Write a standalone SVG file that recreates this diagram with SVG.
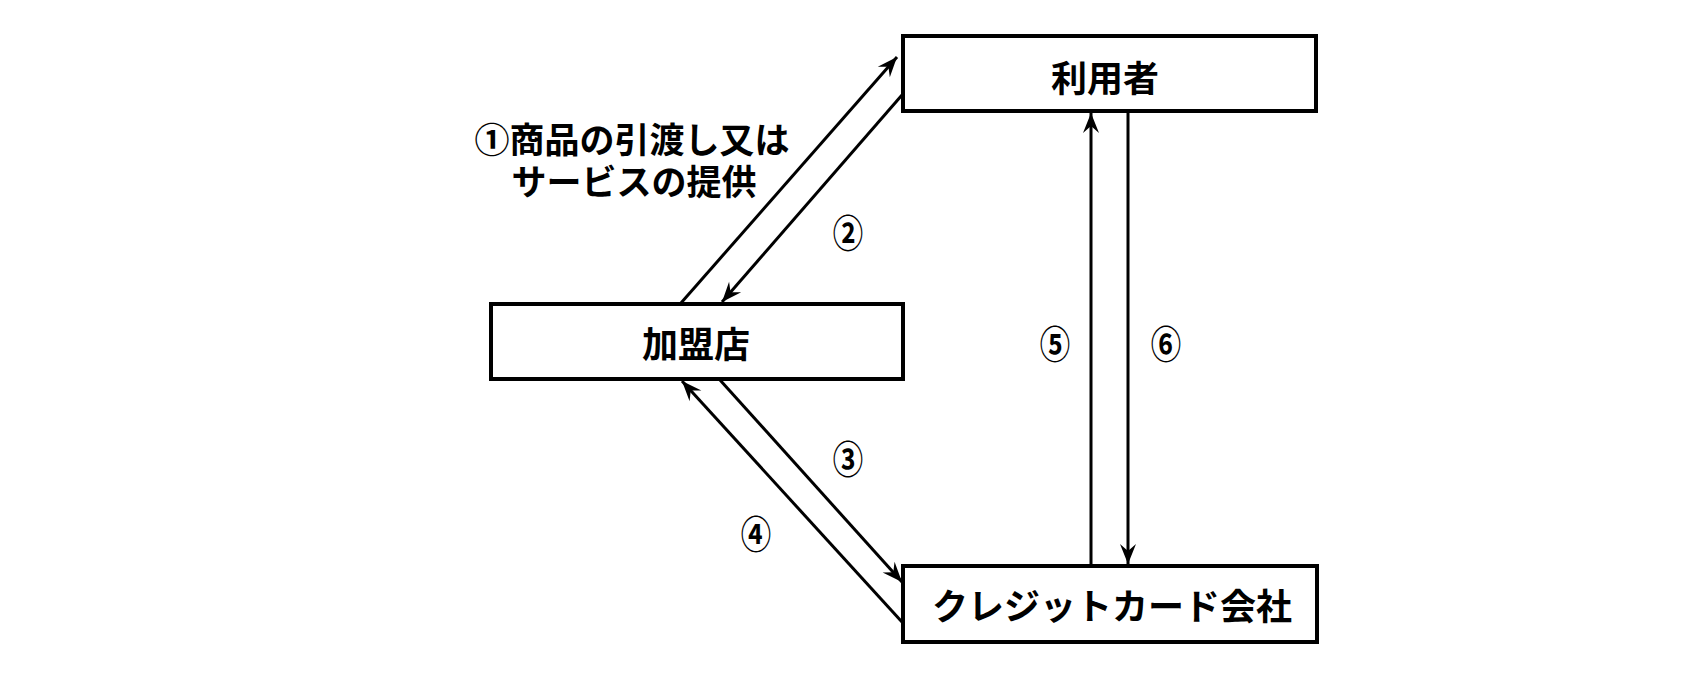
<svg xmlns="http://www.w3.org/2000/svg" width="1693" height="676" viewBox="0 0 1693 676">
<style>
.box{fill:#fff;stroke:#000;stroke-width:4}
.lbl{font-family:"Noto Sans CJK JP","Noto Sans CJK SC",sans-serif;font-weight:bold;font-size:36px;fill:#000;text-anchor:middle;dominant-baseline:central}
.cap{font-family:"Noto Sans CJK JP","Noto Sans CJK SC",sans-serif;font-weight:bold;font-size:35px;fill:#000;text-anchor:middle}
.num{font-family:"Noto Sans CJK JP","Noto Sans CJK SC",sans-serif;font-weight:bold;font-size:38px;fill:#000;text-anchor:middle;dominant-baseline:central}
.con{stroke:#000;stroke-width:3;fill:none;marker-end:url(#ah)}
</style>
<defs>
<marker id="ah" markerUnits="userSpaceOnUse" markerWidth="24" markerHeight="20" viewBox="-22 -10 24 20" refX="0" refY="0" orient="auto">
<path d="M0,0 L-20,-8 L-13,0 L-20,8 Z" fill="#000"/>
</marker>
</defs>
<rect width="1693" height="676" fill="#fff"/>
<g id="connectors">
<line class="con" x1="681" y1="303" x2="897" y2="57"/>
<line class="con" x1="902" y1="95" x2="722" y2="302"/>
<line class="con" x1="720" y1="380" x2="902" y2="582"/>
<line class="con" x1="902" y1="622" x2="682" y2="381"/>
<line class="con" x1="1091" y1="566" x2="1091" y2="113"/>
<line class="con" x1="1128" y1="111" x2="1128" y2="564"/>
</g>
<g id="user">
<rect class="box" x="903" y="36" width="413" height="75"/>
<text class="lbl" x="1105" y="76">利用者</text>
</g>
<g id="merchant">
<rect class="box" x="491" y="304" width="412" height="75"/>
<text class="lbl" x="696" y="342">加盟店</text>
</g>
<g id="card">
<rect class="box" x="903" y="566" width="414" height="76"/>
<text class="lbl" x="1112" y="604">クレジットカード会社</text>
</g>
<g id="labels">
<text class="cap" x="632" y="153"><tspan x="632">①商品の引渡し又は</tspan><tspan x="634" dy="42">サービスの提供</tspan></text>
<text class="num" transform="translate(848,230) scale(0.8,1)">②</text>
<text class="num" transform="translate(848,456) scale(0.8,1)">③</text>
<text class="num" transform="translate(756,531) scale(0.8,1)">④</text>
<text class="num" transform="translate(1055,341) scale(0.8,1)">⑤</text>
<text class="num" transform="translate(1166,341) scale(0.8,1)">⑥</text>
</g>
</svg>
